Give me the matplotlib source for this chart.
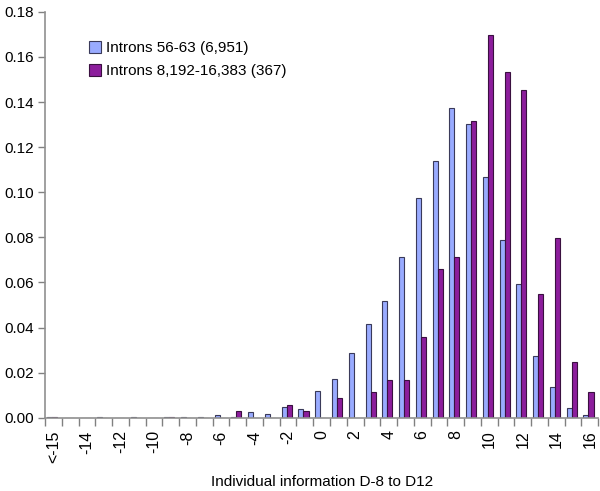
import matplotlib
matplotlib.use("Agg")
from matplotlib import pyplot as plt
import numpy as np

plt.rcParams['font.family'] = ['Liberation Sans', 'DejaVu Sans']

# categories of individual information (bins)
categories = ['<-15'] + [str(v) for v in range(-15, 17)]

introns_56_63 = [0.0005, 0.0, 0.0, 0.0005, 0.0, 0.0005, 0.0, 0.0005, 0.0005, 0.0005,
                 0.0012, 0.0003, 0.0025, 0.0017, 0.0049, 0.0040, 0.0121, 0.0173, 0.0287,
                 0.0418, 0.0519, 0.0713, 0.0973, 0.1138, 0.1373, 0.1302, 0.1069, 0.0788,
                 0.0593, 0.0275, 0.0137, 0.0043, 0.0013]
introns_8192_16383 = [0.0005, 0.0, 0.0, 0.0, 0.0, 0.0, 0.0, 0.0005, 0.0, 0.0,
                      0.0, 0.0030, 0.0, 0.0, 0.0057, 0.0030, 0.0, 0.0086, 0.0,
                      0.0114, 0.0167, 0.0167, 0.0358, 0.0659, 0.0713, 0.1316, 0.1698, 0.1534,
                      0.1455, 0.0550, 0.0797, 0.0248, 0.0114]

label_blue = 'Introns 56-63 (6,951)'
label_purple = 'Introns 8,192-16,383 (367)'

fig = plt.figure(figsize=(6, 4.91), dpi=100)
ax = fig.add_axes([0.075, 0.149, 0.922, 0.827])

x = np.arange(len(categories))
w = 0.3
ax.bar(x - 0.23, introns_56_63, w, color='#99abff', edgecolor='#3a3a5a', linewidth=0.8,
       label=label_blue)
ax.bar(x + 0.07, introns_8192_16383, w, color='#8c1d9c', edgecolor='#3a1040', linewidth=0.8,
       label=label_purple)

ax.set_xlim(-0.5, len(categories) - 0.5)
ax.set_ylim(0, 0.18)
ax.set_yticks(np.arange(0, 0.181, 0.02))
ax.set_yticklabels(['%.2f' % v for v in np.arange(0, 0.181, 0.02)], fontsize=11)

# labels on every other category, tick marks on bin boundaries
ax.set_xticks(x[::2])
ax.set_xticklabels([categories[0]] + categories[2::2], rotation=90, fontsize=11.5)
ax.tick_params(axis='x', which='major', length=0, pad=9)
ax.set_xticks(np.arange(-0.5, len(categories), 1), minor=True)
ax.tick_params(axis='x', which='minor', length=6, color='#808080', width=1)
ax.tick_params(axis='y', length=5, color='#808080', width=1, pad=3)

for s in ['top', 'right']:
    ax.spines[s].set_visible(False)
for s in ['left', 'bottom']:
    ax.spines[s].set_color('#909090')
    ax.spines[s].set_linewidth(1.2)

ax.set_xlabel('Individual information D-8 to D12', fontsize=11, labelpad=9)

ax.legend(loc='upper left', bbox_to_anchor=(0.055, 0.962), frameon=False, fontsize=11,
          handlelength=0.8, handleheight=0.8, handletextpad=0.3, labelspacing=0.6)

fig.savefig('out.png', dpi=100)
